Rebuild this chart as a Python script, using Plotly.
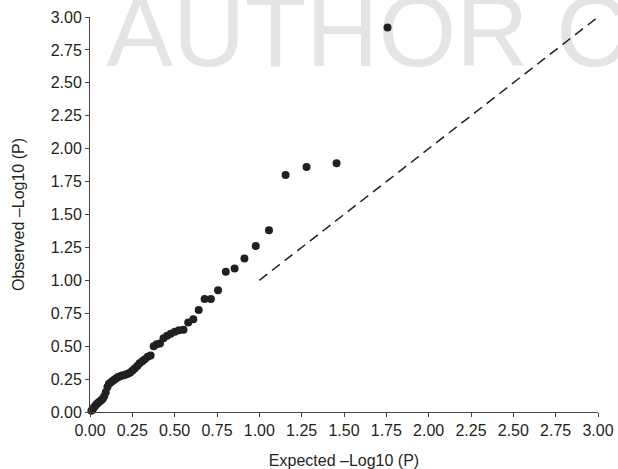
import plotly.graph_objects as go

# Expected -log10(P) (x) and observed -log10(P) (y)
expected = [1.757, 1.456, 1.279, 1.155, 1.057, 0.979, 0.912, 0.854, 0.802, 0.756,
            0.714, 0.677, 0.642, 0.610, 0.580, 0.552, 0.525, 0.501, 0.477, 0.455,
            0.434, 0.413, 0.394, 0.376, 0.358, 0.341, 0.324, 0.309, 0.293, 0.279,
            0.264, 0.251, 0.237, 0.224, 0.212, 0.200, 0.188, 0.176, 0.165, 0.154,
            0.143, 0.133, 0.122, 0.112, 0.103, 0.093, 0.084, 0.075, 0.066, 0.057,
            0.048, 0.040, 0.032, 0.023, 0.016, 0.008]
observed = [2.92, 1.89, 1.86, 1.80, 1.38, 1.26, 1.165, 1.09, 1.065, 0.925,
            0.858, 0.858, 0.775, 0.705, 0.68, 0.625, 0.62, 0.61, 0.595, 0.58,
            0.56, 0.52, 0.515, 0.50, 0.43, 0.42, 0.40, 0.385, 0.37, 0.35,
            0.33, 0.315, 0.30, 0.29, 0.285, 0.28, 0.278, 0.27, 0.265, 0.255,
            0.245, 0.235, 0.225, 0.215, 0.19, 0.15, 0.12, 0.10, 0.09, 0.08,
            0.07, 0.06, 0.05, 0.035, 0.02, 0.01]

ref_x = [1.0, 3.0]
ref_y = [1.0, 3.0]

tick_vals = [0, 0.25, 0.5, 0.75, 1.0, 1.25, 1.5, 1.75, 2.0, 2.25, 2.5, 2.75, 3.0]
tick_text = ["0.00", "0.25", "0.50", "0.75", "1.00", "1.25", "1.50", "1.75",
             "2.00", "2.25", "2.50", "2.75", "3.00"]

x_title = "Expected \u2013Log10 (P)"
y_title = "Observed \u2013Log10 (P)"
watermark = "AUTHOR COPY"

TXT = "#231f20"
FONT = "Liberation Sans, Arial, sans-serif"

fig = go.Figure()
fig.add_trace(go.Scatter(x=ref_x, y=ref_y, mode="lines",
                         line=dict(color=TXT, width=1.5, dash="10px,6px"),
                         hoverinfo="skip", showlegend=False, cliponaxis=False))
fig.add_trace(go.Scatter(x=expected, y=observed, mode="markers",
                         marker=dict(color=TXT, size=8, line=dict(width=0)),
                         showlegend=False, cliponaxis=False))

fig.add_shape(type="rect", xref="paper", yref="paper", layer="below",
              x0=0.026, x1=1.2, y0=0.845, y1=1.2,
              line=dict(width=0), fillcolor="rgba(0,0,0,0)",
              label=dict(text=watermark, textposition="bottom left", padding=0,
                         font=dict(family=FONT, size=100, color="#e4e4e4")))

axis_common = dict(
    range=[0, 3], tickmode="array", tickvals=tick_vals, ticktext=tick_text,
    showgrid=False, zeroline=False, showline=True, linecolor="#444",
    linewidth=1, ticks="outside", ticklen=4, tickcolor="#444", tickwidth=1,
    tickfont=dict(family=FONT, size=16, color=TXT), automargin=False,
)

fig.update_xaxes(**axis_common, title=dict(text=x_title, standoff=17,
                 font=dict(family=FONT, size=16, color=TXT)))
fig.update_yaxes(**axis_common, title=dict(text=y_title, standoff=22,
                 font=dict(family=FONT, size=16, color=TXT)))

fig.update_layout(
    width=618, height=469,
    margin=dict(l=90, r=20, t=17, b=57),
    paper_bgcolor="white", plot_bgcolor="white",
    showlegend=False,
)

fig.write_html("out.html")
